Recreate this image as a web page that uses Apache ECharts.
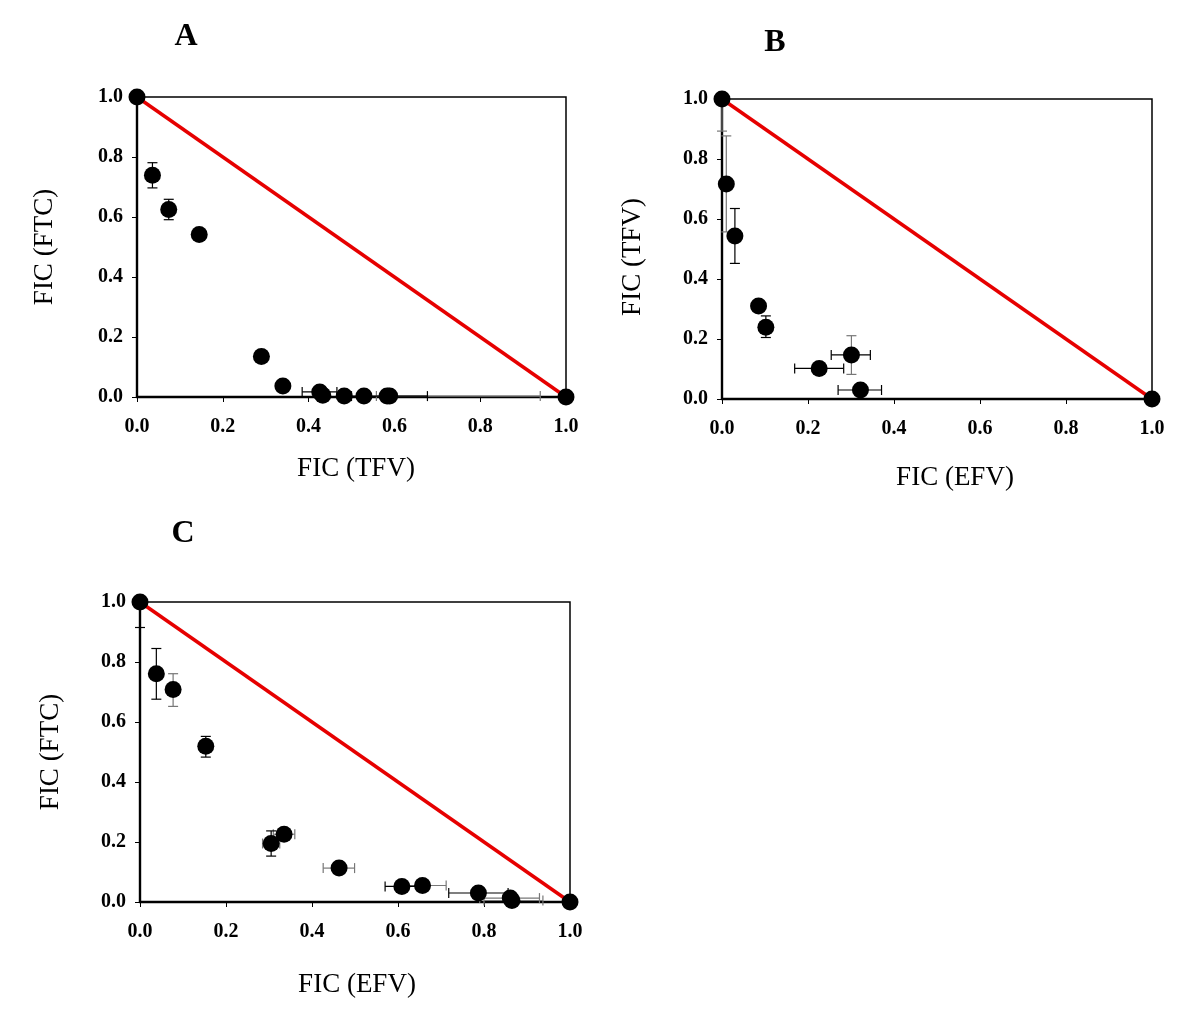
<!DOCTYPE html>
<html>
<head>
<meta charset="utf-8">
<script src="https://cdn.jsdelivr.net/npm/echarts@6/dist/echarts.min.js"></script>
<style>html,body{margin:0;padding:0;background:#fff;}#main{width:1200px;height:1024px;}</style>
</head>
<body>
<div id="main"></div>
<script>
// ---------- DATA ----------
var tickLabels = ['0.0','0.2','0.4','0.6','0.8','1.0'];
var panelLetters = ['A','B','C'];
var xTitles = ['FIC (TFV)','FIC (EFV)','FIC (EFV)'];
var yTitles = ['FIC (FTC)','FIC (TFV)','FIC (FTC)'];
var additivityLine = [[0,1],[1,0]];

// Panel A
var xA = [0, 0.036, 0.074, 0.145, 0.290, 0.340, 0.426, 0.433, 0.483, 0.529, 0.583, 0.589, 1.0];
var yA = [1.0, 0.739, 0.625, 0.542, 0.135, 0.037, 0.017, 0.006, 0.003, 0.003, 0.003, 0.003, 0.0];
// error bars: [x, y, low, high]
var yErrA = [[0.036, 0.739, 0.697, 0.781], [0.074, 0.625, 0.591, 0.659]];
var xErrA = [[0.426, 0.017, 0.385, 0.466], [0.589, 0.003, 0.500, 0.677]];
var xErrGrayA = [[0.583, 0.003, 0.558, 0.940]];
var yErrGrayA = [];

// Panel B
var xB = [0, 0.010, 0.030, 0.085, 0.102, 0.226, 0.301, 0.322, 1.0];
var yB = [1.0, 0.717, 0.543, 0.310, 0.239, 0.102, 0.147, 0.030, 0.0];
var yErrB = [[0.030, 0.543, 0.452, 0.635], [0.085, 0.310, 0.295, 0.325], [0.102, 0.239, 0.205, 0.277]];
var xErrB = [[0.226, 0.102, 0.169, 0.283], [0.301, 0.147, 0.254, 0.345], [0.322, 0.030, 0.270, 0.371]];
var yErrGrayB = [[0.010, 0.717, 0.557, 0.877], [0.0, 1.0, 0.893, 1.0], [0.301, 0.147, 0.082, 0.211]];
var xErrGrayB = [];

// Panel C
var xC = [0, 0.038, 0.077, 0.153, 0.305, 0.335, 0.463, 0.609, 0.657, 0.787, 0.861, 0.865, 1.0];
var yC = [1.0, 0.761, 0.708, 0.519, 0.195, 0.226, 0.113, 0.052, 0.055, 0.030, 0.013, 0.005, 0.0];
var yErrC = [[0.0, 1.0, 0.915, 1.0], [0.038, 0.761, 0.676, 0.845], [0.153, 0.519, 0.483, 0.552], [0.305, 0.195, 0.153, 0.237]];
var xErrC = [[0.609, 0.052, 0.570, 0.648], [0.787, 0.030, 0.718, 0.856]];
var yErrGrayC = [[0.077, 0.708, 0.652, 0.761]];
var xErrGrayC = [[0.305, 0.195, 0.285, 0.325], [0.335, 0.226, 0.310, 0.360], [0.463, 0.113, 0.426, 0.499],
                 [0.657, 0.055, 0.620, 0.712], [0.861, 0.013, 0.790, 0.929], [0.865, 0.005, 0.800, 0.937]];

// ---------- CHART ----------
var FONT = '"Liberation Serif", "Times New Roman", serif';
var chart = echarts.init(document.getElementById('main'), null, {renderer: 'canvas'});

function zip(xs, ys) { return xs.map(function (x, i) { return [x, ys[i]]; }); }

function errSeries(gi, data, vertical, color) {
  return {
    type: 'custom', xAxisIndex: gi, yAxisIndex: gi, z: 3, clip: false,
    data: data,
    renderItem: function (params, api) {
      var x = api.value(0), y = api.value(1), lo = api.value(2), hi = api.value(3);
      var p1, p2, cap = 5, st = {stroke: color, lineWidth: 1.2};
      var children = [];
      if (vertical) {
        p1 = api.coord([x, lo]); p2 = api.coord([x, hi]);
        children.push({type: 'line', shape: {x1: p1[0], y1: p1[1], x2: p2[0], y2: p2[1]}, style: st});
        children.push({type: 'line', shape: {x1: p1[0] - cap, y1: p1[1], x2: p1[0] + cap, y2: p1[1]}, style: st});
        children.push({type: 'line', shape: {x1: p2[0] - cap, y1: p2[1], x2: p2[0] + cap, y2: p2[1]}, style: st});
      } else {
        p1 = api.coord([lo, y]); p2 = api.coord([hi, y]);
        children.push({type: 'line', shape: {x1: p1[0], y1: p1[1], x2: p2[0], y2: p2[1]}, style: st});
        children.push({type: 'line', shape: {x1: p1[0], y1: p1[1] - cap, x2: p1[0], y2: p1[1] + cap}, style: st});
        children.push({type: 'line', shape: {x1: p2[0], y1: p2[1] - cap, x2: p2[0], y2: p2[1] + cap}, style: st});
      }
      return {type: 'group', children: children};
    }
  };
}

var grids = [
  {left: 137, top: 97, width: 429, height: 300},
  {left: 722, top: 99, width: 430, height: 300},
  {left: 140, top: 602, width: 430, height: 300}
];
grids.forEach(function (g) { g.show = true; g.borderColor = '#000'; g.borderWidth = 1.5; g.backgroundColor = 'transparent'; });

function axis(gi, isX) {
  return {
    type: 'value', gridIndex: gi, min: 0, max: 1, interval: 0.2,
    axisLine: {show: true, onZero: false, lineStyle: {color: '#000', width: 2.4}},
    axisTick: {show: true, inside: false, length: 5, lineStyle: {color: '#000', width: 1}},
    splitLine: {show: false},
    axisLabel: {
      color: '#000', fontFamily: FONT, fontWeight: 'bold', fontSize: 20,
      margin: isX ? 20 : 14,
      formatter: function (v) { return tickLabels[Math.round(v / 0.2)]; }
    }
  };
}

var sets = [
  {xs: xA, ys: yA, yE: yErrA, xE: xErrA, yG: yErrGrayA, xG: xErrGrayA},
  {xs: xB, ys: yB, yE: yErrB, xE: xErrB, yG: yErrGrayB, xG: xErrGrayB},
  {xs: xC, ys: yC, yE: yErrC, xE: xErrC, yG: yErrGrayC, xG: xErrGrayC}
];

var series = [];
sets.forEach(function (s, gi) {
  series.push({
    type: 'line', xAxisIndex: gi, yAxisIndex: gi, data: additivityLine, showSymbol: false,
    lineStyle: {color: '#e60000', width: 3.5}, z: 2, silent: true, animation: false
  });
  series.push(errSeries(gi, s.yG, true, '#777'));
  series.push(errSeries(gi, s.xG, false, '#777'));
  series.push(errSeries(gi, s.yE, true, '#000'));
  series.push(errSeries(gi, s.xE, false, '#000'));
  series.push({
    type: 'scatter', xAxisIndex: gi, yAxisIndex: gi, data: zip(s.xs, s.ys),
    symbol: 'circle', symbolSize: 17, itemStyle: {color: '#000', opacity: 1}, z: 5, clip: false
  });
});

function txt(t, x, y, size, bold, rot) {
  return {
    type: 'text', x: x, y: y, rotation: rot || 0, z: 10,
    style: {text: t, fill: '#000', font: (bold ? 'bold ' : '') + size + 'px ' + FONT,
            textAlign: 'center', textVerticalAlign: 'middle'}
  };
}

var graphic = [
  txt(panelLetters[0], 186, 37, 32, true),
  txt(panelLetters[1], 775, 43, 32, true),
  txt(panelLetters[2], 183, 534, 32, true),
  txt(xTitles[0], 356, 469, 27, false),
  txt(xTitles[1], 955, 478, 27, false),
  txt(xTitles[2], 357, 985, 27, false),
  txt(yTitles[0], 45, 247, 27, false, Math.PI / 2),
  txt(yTitles[1], 633, 257, 27, false, Math.PI / 2),
  txt(yTitles[2], 51, 752, 27, false, Math.PI / 2)
];

chart.setOption({
  animation: false,
  backgroundColor: '#fff',
  grid: grids,
  xAxis: [axis(0, true), axis(1, true), axis(2, true)],
  yAxis: [axis(0, false), axis(1, false), axis(2, false)],
  series: series,
  graphic: graphic
});
</script>
</body>
</html>
